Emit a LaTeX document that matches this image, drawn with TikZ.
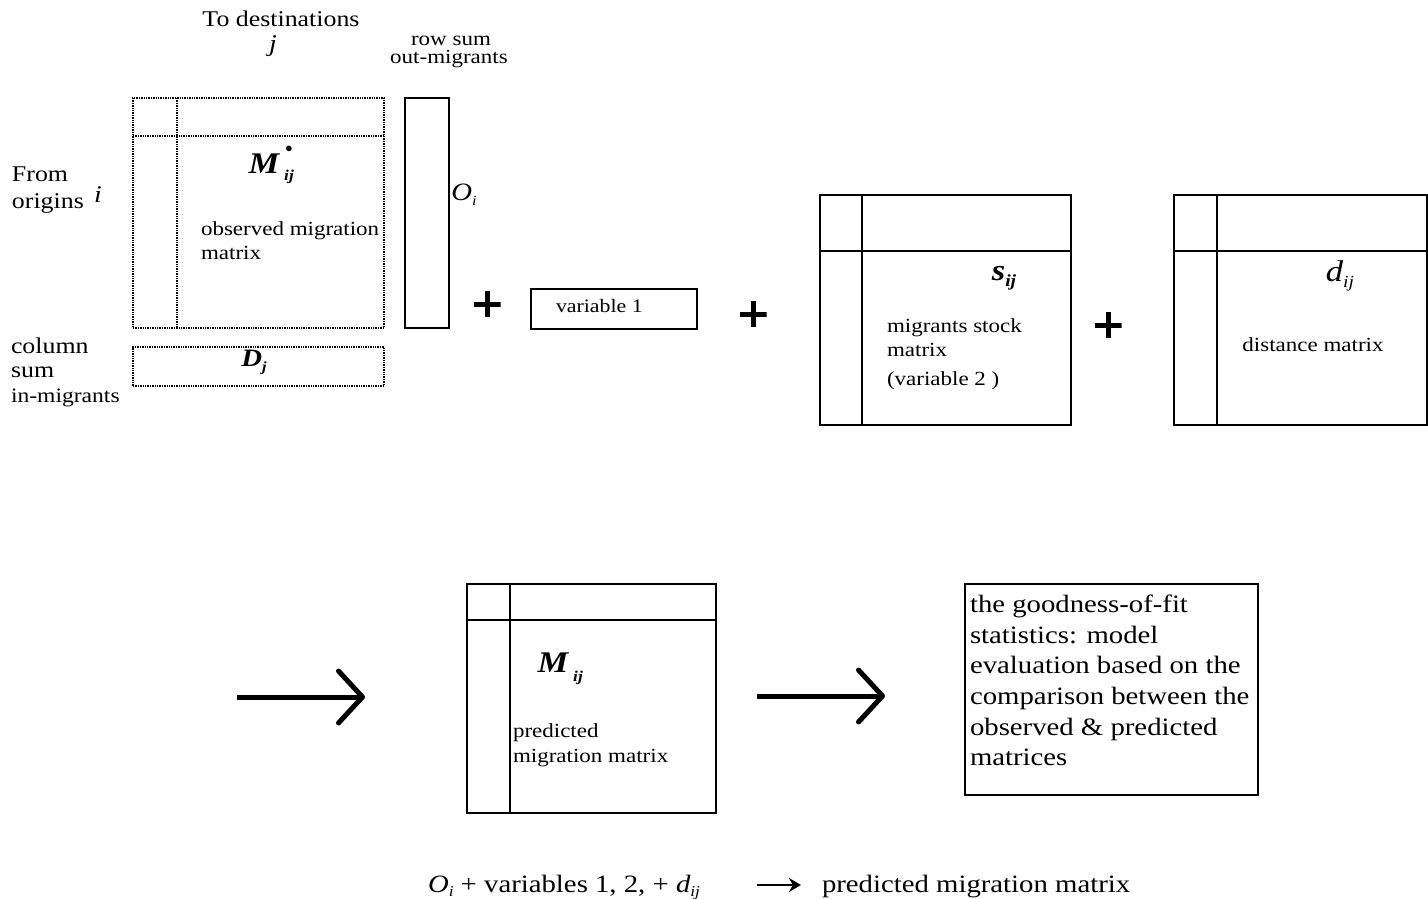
\documentclass[tikz,border=0pt]{standalone}
\usepackage{fontspec}
\setmainfont[FakeStretch=1.15]{Liberation Serif}
\usetikzlibrary{arrows.meta,calc}
\begin{document}
\begin{tikzpicture}[x=1pt,y=-1pt,
  mat/.style={draw, line width=1.8pt, inner sep=0pt, outer sep=0pt},
  dmat/.style={draw, densely dotted, line width=1.4pt, inner sep=0pt, outer sep=0pt},
  grid/.style={line width=1.8pt},
  dgrid/.style={densely dotted, line width=1.4pt},
  lbl/.style={inner sep=0pt, outer sep=0pt},
  small/.style={lbl, font=\fontsize{20}{22}\selectfont},
  mid/.style={lbl, font=\fontsize{22.5}{24}\selectfont},
  big/.style={lbl, font=\fontsize{25}{27}\selectfont},
  plus/.style={lbl, minimum width=27pt, minimum height=26pt,
    path picture={\draw[line width=5pt] (path picture bounding box.west) -- (path picture bounding box.east)
      (path picture bounding box.north) -- (path picture bounding box.south);}},
  bigarrow/.style={line width=5pt, -{Straight Barb[length=24pt,width=52pt,line width=5pt,round]}}
]
\useasboundingbox (0,0) rectangle (1428,899);

% observed matrix
\node[dmat, anchor=north west, minimum width=251pt, minimum height=230pt] (obs) at (133,98) {};
\draw[dgrid] ($(obs.north west)+(44,0)$) -- ($(obs.south west)+(44,0)$);
\draw[dgrid] ($(obs.north west)+(0,38)$) -- ($(obs.north east)+(0,38)$);
\node[dmat, anchor=north west, minimum width=251pt, minimum height=39pt] (dj) at (133,347) {};
\node[lbl, font=\fontsize{25}{26}\selectfont\bfseries\itshape] (djt) at (254,362) {D\raisebox{-5pt}{\fontsize{14}{14}\selectfont j}};

% O_i column
\node[mat, anchor=north west, minimum width=44pt, minimum height=230pt] (oi) at (405,98) {};
\node[lbl, font=\fontsize{25}{26}\selectfont\itshape] (oit) at (464,195) {O\raisebox{-5pt}{\fontsize{14}{14}\selectfont i}};

% header labels
\node[mid, anchor=base] (todest) at (281,27) {To destinations};
\node[lbl, font=\fontsize{24}{24}\selectfont\itshape] (jt) at (273,46) {j};
\node[small, anchor=base] (rowsum) at (451,46) {row sum};
\node[small, anchor=base] (outmig) at (449,64) {out-migrants};
\node[mid, anchor=base west] (from) at (12,181) {From};
\node[mid, anchor=base west] (orig) at (12,208) {origins};
\node[lbl, font=\fontsize{24}{24}\selectfont\itshape] (it) at (98,195) {i};
\node[mid, anchor=base west] (col) at (11,353) {column};
\node[mid, anchor=base west] (csum) at (11,377) {sum};
\node[lbl, font=\fontsize{20.5}{22}\selectfont, anchor=base west] (inmig) at (11,402) {in-migrants};

% M*_ij
\node[lbl, font=\fontsize{30}{30}\selectfont\bfseries\itshape] (mobs) at (264,164) {M};
\node[lbl, font=\fontsize{14}{14}\selectfont\bfseries] (mdot) at (289,149) {$\bullet$};
\node[lbl, font=\fontsize{15}{15}\selectfont\bfseries\itshape] (mij) at (289,177) {ij};
\node[small, anchor=base west] (obs1) at (201,235) {observed migration};
\node[small, anchor=base west] (obs2) at (201,259) {matrix};

% plus and variable 1
\node[plus] (p1) at (487,304) {};
\node[mat, anchor=north west, minimum width=166pt, minimum height=40pt] (var1) at (531,289) {};
\node[lbl, font=\fontsize{19}{20}\selectfont, anchor=base west] (var1t) at (556,312) {variable 1};
\node[plus] (p2) at (753,314) {};

% s_ij matrix
\node[mat, anchor=north west, minimum width=251pt, minimum height=230pt] (smat) at (820,195) {};
\draw[grid] ($(smat.north west)+(42,0)$) -- ($(smat.south west)+(42,0)$);
\draw[grid] ($(smat.north west)+(0,56)$) -- ($(smat.north east)+(0,56)$);
\node[lbl, font=\fontsize{30}{30}\selectfont\bfseries\itshape] (st) at (1004,278) {s\raisebox{-6pt}{\fontsize{17}{17}\selectfont ij}};
\node[small, anchor=base west] (s1) at (887,332) {migrants stock};
\node[small, anchor=base west] (s2) at (887,356) {matrix};
\node[small, anchor=base west] (s3) at (887,385) {(variable 2 )};
\node[plus] (p3) at (1108,325) {};

% d_ij matrix
\node[mat, anchor=north west, minimum width=253pt, minimum height=230pt] (dmatx) at (1174,195) {};
\draw[grid] ($(dmatx.north west)+(43,0)$) -- ($(dmatx.south west)+(43,0)$);
\draw[grid] ($(dmatx.north west)+(0,56)$) -- ($(dmatx.north east)+(0,56)$);
\node[lbl, font=\fontsize{30}{30}\selectfont\itshape] (dt) at (1340,276) {d\raisebox{-6pt}{\fontsize{17}{17}\selectfont ij}};
\node[small, anchor=base] (dist) at (1313,351) {distance matrix};

% bottom row
\coordinate (a1s) at (237,697);
\coordinate (a1e) at (365,697);
\draw[bigarrow] (a1s) -- (a1e);

\node[mat, anchor=north west, minimum width=249pt, minimum height=229pt] (pred) at (467,584) {};
\draw[grid] ($(pred.north west)+(43,0)$) -- ($(pred.south west)+(43,0)$);
\draw[grid] ($(pred.north west)+(0,36)$) -- ($(pred.north east)+(0,36)$);
\node[lbl, font=\fontsize{30}{30}\selectfont\bfseries\itshape] (mp) at (553,663) {M};
\node[lbl, font=\fontsize{15}{15}\selectfont\bfseries\itshape] (mpij) at (578,678) {ij};
\node[small, anchor=base west] (pr1) at (513,737) {predicted};
\node[small, anchor=base west] (pr2) at (513,762) {migration matrix};

\coordinate (a2s) at (757,696);
\coordinate (a2e) at (885,696);
\draw[bigarrow] (a2s) -- (a2e);

\node[mat, anchor=north west, minimum width=293pt, minimum height=211pt] (gof) at (965,584) {};
\node[big, anchor=base west] (g1) at (970,612) {the goodness-of-fit};
\node[big, anchor=base west] (g2) at (970,643) {statistics: model};
\node[big, anchor=base west] (g3) at (970,673) {evaluation based on the};
\node[big, anchor=base west] (g4) at (970,704) {comparison between the};
\node[big, anchor=base west] (g5) at (970,735) {observed \& predicted};
\node[big, anchor=base west] (g6) at (970,765) {matrices};

% formula line
\node[big, anchor=base west] (form) at (428,892) {\textit{O}\raisebox{-4pt}{\fontsize{15}{15}\selectfont\itshape i} + variables 1, 2, + \textit{d}\raisebox{-4pt}{\fontsize{15}{15}\selectfont\itshape ij}};
\coordinate (a3s) at (757,885);
\coordinate (a3e) at (801,885);
\draw[line width=2.6pt, -{Stealth[length=12pt,width=14pt]}] (a3s) -- (a3e);
\node[big, anchor=base west] (predtxt) at (822,892) {predicted migration matrix};
\end{tikzpicture}
\end{document}
